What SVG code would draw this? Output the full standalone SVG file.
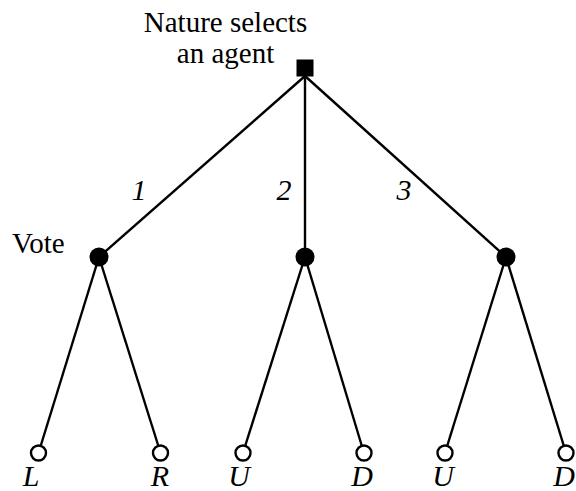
<svg xmlns="http://www.w3.org/2000/svg" width="576" height="491" viewBox="0 0 576 491">
<style>
text{font-family:"Liberation Serif","Times New Roman",serif;fill:#000}
.t{font-size:29px}
.i{font-size:30px;font-style:italic;text-anchor:middle}
.e{stroke:#000;stroke-width:2.4;fill:none}
.d{fill:#000}
.o{fill:#fff;stroke:#000;stroke-width:2.4}
</style>
<rect width="576" height="491" fill="#fff"/>
<g id="connectors">
<line class="e" x1="305" y1="76" x2="99" y2="257"/>
<line class="e" x1="305" y1="76" x2="305" y2="257"/>
<line class="e" x1="305" y1="76" x2="506" y2="257"/>
<line class="e" x1="99" y1="257" x2="40.8" y2="445.5"/>
<line class="e" x1="99" y1="257" x2="158.2" y2="445.5"/>
<line class="e" x1="305" y1="257" x2="245.3" y2="445.5"/>
<line class="e" x1="305" y1="257" x2="361.7" y2="445.5"/>
<line class="e" x1="506" y1="257" x2="447.3" y2="445.5"/>
<line class="e" x1="506" y1="257" x2="563.7" y2="445.5"/>
</g>
<g id="root">
<rect class="d" x="296.5" y="59.5" width="17" height="17"/>
<text class="t" x="225.5" y="32" text-anchor="middle">Nature selects</text>
<text class="t" x="225.5" y="63" text-anchor="middle">an agent</text>
</g>
<g id="n1">
<circle class="d" cx="99" cy="257" r="9.5"/>
<text class="t" x="12" y="253">Vote</text>
</g>
<g id="n2"><circle class="d" cx="305" cy="257" r="9.5"/></g>
<g id="n3"><circle class="d" cx="506" cy="257" r="9.5"/></g>
<g id="edge-labels">
<text class="i" x="139" y="200">1</text>
<text class="i" x="284" y="200">2</text>
<text class="i" x="404" y="200">3</text>
</g>
<g id="leafL"><circle class="o" cx="38.5" cy="453" r="7.5"/><text class="i" x="31" y="486">L</text></g>
<g id="leafR"><circle class="o" cx="160.5" cy="453" r="7.5"/><text class="i" x="160" y="486">R</text></g>
<g id="leafU1"><circle class="o" cx="243" cy="453" r="7.5"/><text class="i" x="239" y="486">U</text></g>
<g id="leafD1"><circle class="o" cx="364" cy="453" r="7.5"/><text class="i" x="362" y="486">D</text></g>
<g id="leafU2"><circle class="o" cx="445" cy="453" r="7.5"/><text class="i" x="443" y="486">U</text></g>
<g id="leafD2"><circle class="o" cx="566" cy="453" r="7.5"/><text class="i" x="564" y="486">D</text></g>
</svg>
